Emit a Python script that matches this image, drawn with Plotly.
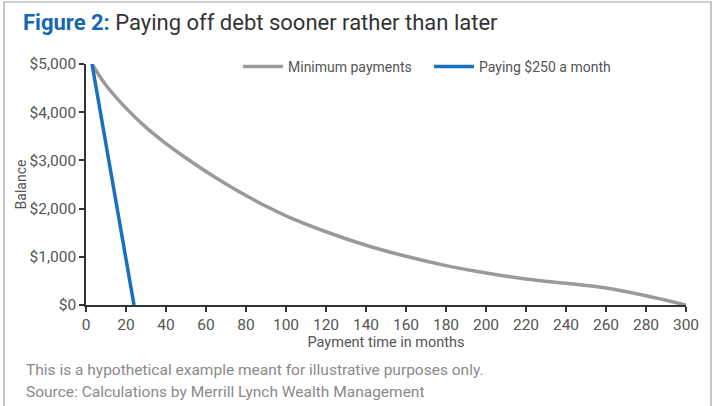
import plotly.graph_objects as go

# ---- data ----
min_months = [3, 10, 20, 30, 40, 50, 60, 70, 80, 90, 100, 120, 140, 160, 180, 200, 220, 240, 260, 280, 300]
min_balance = [5000, 4560, 4085, 3685, 3350, 3050, 2770, 2510, 2270, 2050, 1850, 1520, 1240, 1010, 817, 665, 540, 450, 353, 193, 0]
fast_months = [3, 24]
fast_balance = [5000, 0]

x_ticks = list(range(0, 301, 20))
y_ticks = [0, 1000, 2000, 3000, 4000, 5000]

W, H = 715, 406
L, R, T, B = 86, 29, 64, 101
pw, ph = W - L - R, H - T - B

def px(x):
    return (x - L) / pw

def py(y):
    return (H - B - y) / ph

FONT = "Roboto"
fig = go.Figure()
fig.add_trace(go.Scatter(x=min_months, y=min_balance, mode="lines", name="Minimum payments",
                         line=dict(color="#9a9a9a", width=3.5, shape="spline", smoothing=1.0)))
fig.add_trace(go.Scatter(x=fast_months, y=fast_balance, mode="lines", name="Paying $250 a month",
                         line=dict(color="#1a70be", width=3.5)))

fig.update_layout(
    width=W, height=H,
    margin=dict(l=L, r=R, t=T, b=B),
    paper_bgcolor="white", plot_bgcolor="white",
    font=dict(family=FONT, size=14, color="#555555"),
    showlegend=True,
    legend=dict(orientation="h", x=px(238), y=py(51), xanchor="left", yanchor="top",
                bgcolor="rgba(0,0,0,0)", font=dict(size=14, color="#555555"),
                itemwidth=40, entrywidth=136, tracegroupgap=0),
    xaxis=dict(range=[0, 300], tickvals=x_ticks, showgrid=False, zeroline=False,
               showline=True, linecolor="#333333", linewidth=1.5,
               ticks="outside", ticklen=5, tickcolor="#333333", tickwidth=1.5,
               tickfont=dict(size=15.5, color="#555555"),
               title=dict(text="Payment time in months", font=dict(size=14.5, color="#555555"), standoff=0)),
    yaxis=dict(range=[0, 5000], tickvals=y_ticks, tickformat="$,.0f", showgrid=False, zeroline=False,
               showline=True, linecolor="#333333", linewidth=1.5,
               ticks="outside", ticklen=5, tickcolor="#333333", tickwidth=1.5,
               tickfont=dict(size=15.5, color="#555555"),
               title=dict(text="Balance", font=dict(size=14, color="#555555"), standoff=0)),
)

fig.add_annotation(xref="paper", yref="paper", x=px(21), y=py(23), xanchor="left", yanchor="middle",
                   showarrow=False,
                   text="<b><span style='color:#1467b3'>Figure 2:</span></b> Paying off debt sooner rather than later",
                   font=dict(family=FONT, size=22, color="#333333"))
fig.add_annotation(xref="paper", yref="paper", x=px(24), y=py(370), xanchor="left", yanchor="middle",
                   showarrow=False, text="This is a hypothetical example meant for illustrative purposes only.",
                   font=dict(family=FONT, size=15.5, color="#8a8a8a"))
fig.add_annotation(xref="paper", yref="paper", x=px(24), y=py(392), xanchor="left", yanchor="middle",
                   showarrow=False, text="Source: Calculations by Merrill Lynch Wealth Management",
                   font=dict(family=FONT, size=15.5, color="#8a8a8a"))

fig.add_shape(type="rect", xref="paper", yref="paper", x0=px(4), x1=px(711), y0=py(430), y1=py(2),
              line=dict(color="#a0a0a0", width=1.2), fillcolor="rgba(0,0,0,0)", layer="below")

fig.write_html("out.html")
